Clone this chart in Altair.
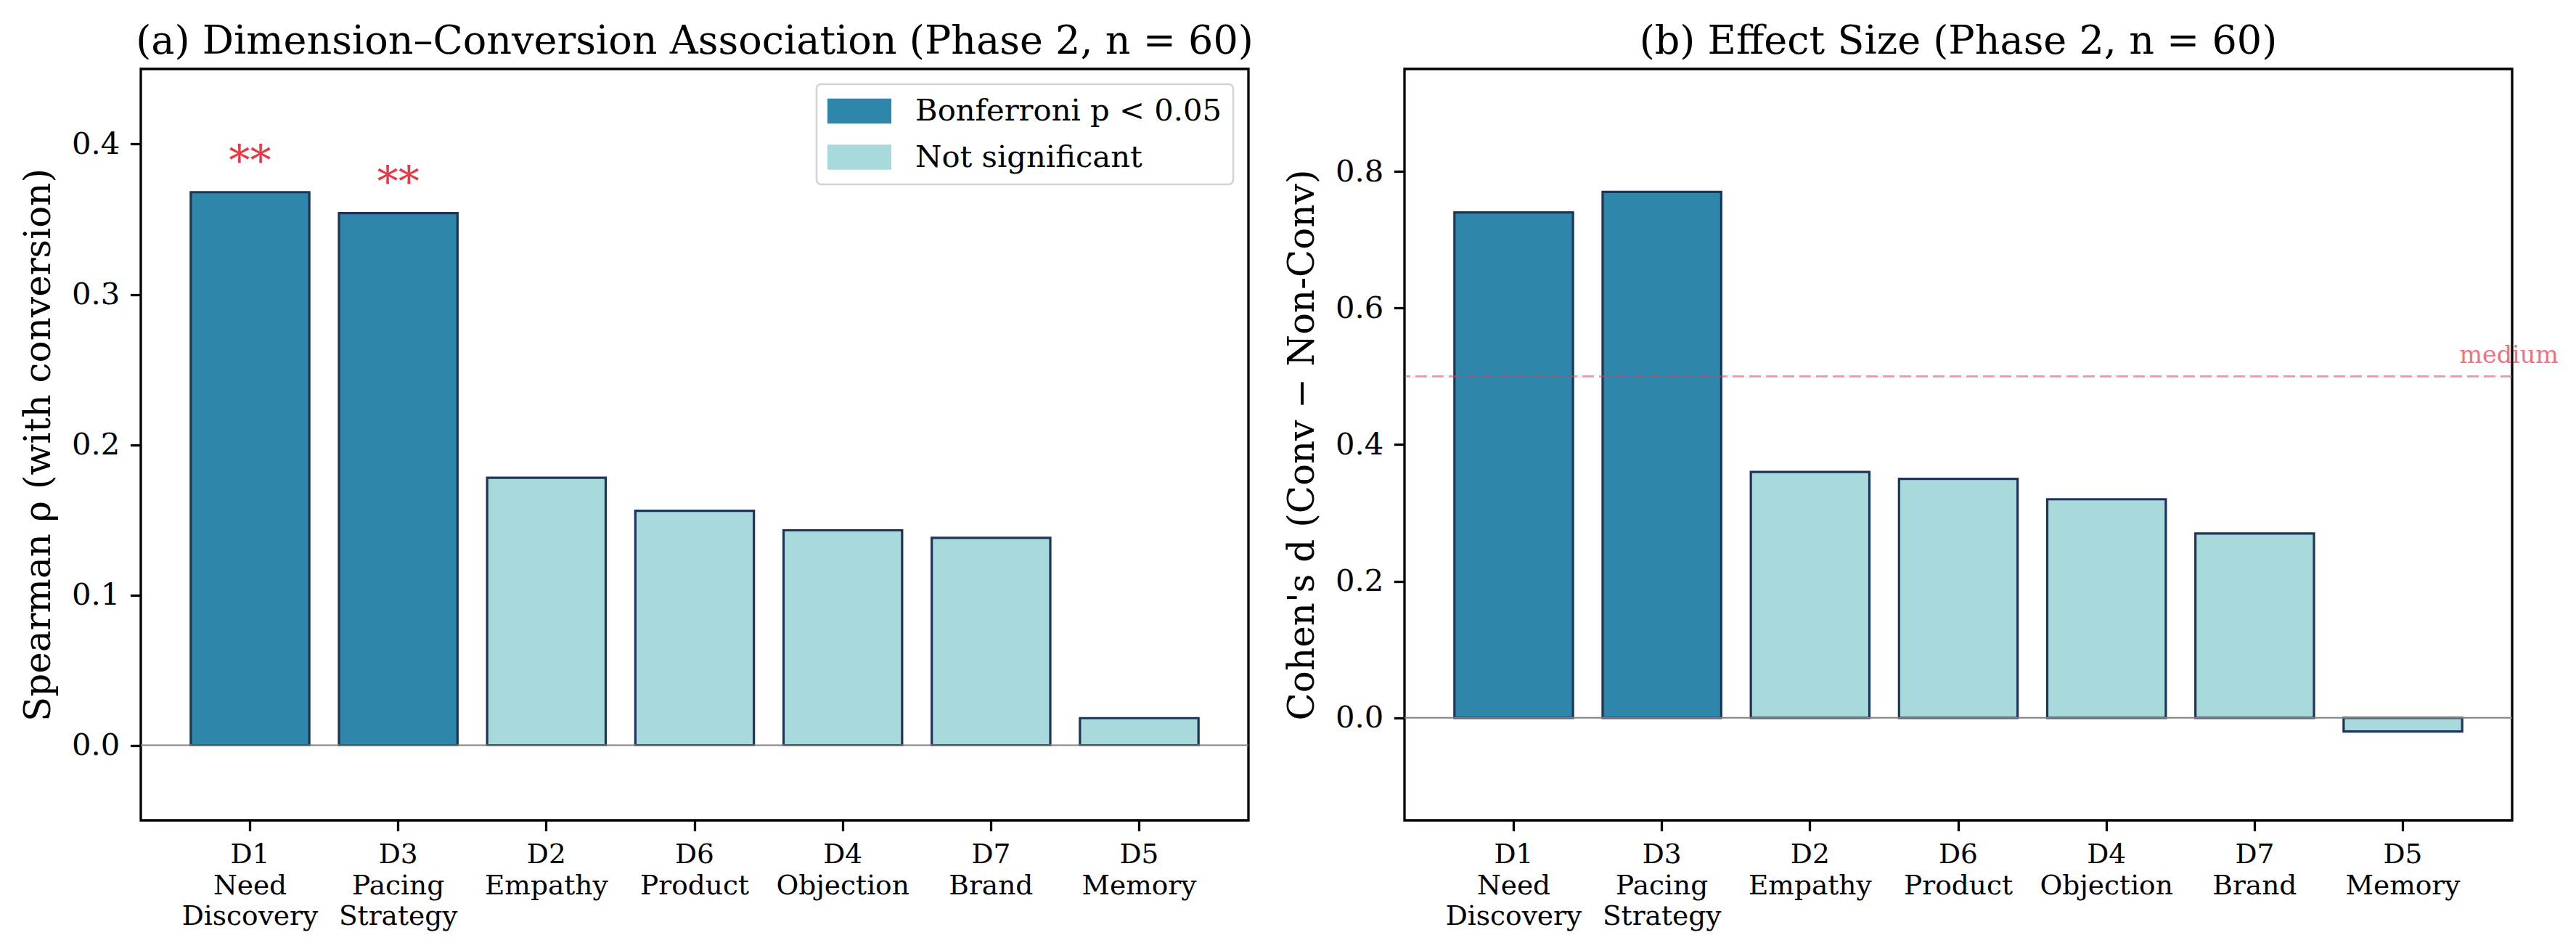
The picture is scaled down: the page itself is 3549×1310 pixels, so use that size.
import altair as alt
import pandas as pd

# ---- data ----
dims = ["D1", "D3", "D2", "D6", "D4", "D7", "D5"]
names = ["Need|Discovery", "Pacing|Strategy", "Empathy", "Product", "Objection", "Brand", "Memory"]
rho = [0.368, 0.354, 0.178, 0.156, 0.143, 0.138, 0.018]
cohen_d = [0.74, 0.77, 0.36, 0.35, 0.32, 0.27, -0.02]
significant = [True, True, False, False, False, False, False]
stars = ["**", "**", "", "", "", "", ""]
medium_d = 0.5
rho_ticks = [0.0, 0.1, 0.2, 0.3, 0.4]
d_ticks = [0.0, 0.2, 0.4, 0.6, 0.8]

SIG = "Bonferroni p < 0.05"
NS = "Not significant"
FONT = "DejaVu Serif"
DARK = "#2e86ab"
LIGHT = "#a8dadc"
EDGE = "#1d3557"
RED = "#e63946"

cats = [f"{d}|{n}" for d, n in zip(dims, names)]
df = pd.DataFrame({
    "cat": cats,
    "rho": rho,
    "d": cohen_d,
    "group": [SIG if s else NS for s in significant],
    "star": stars,
})
zero_df = pd.DataFrame({"z": [0.0]})
med_df = pd.DataFrame({"m": [medium_d]})
med_lab = pd.DataFrame({"cat": [cats[-1]], "y": [medium_d + 0.02], "t": ["medium"]})

W, H = 1526, 1035
TICK = 14.6
LW = 3.3


def xenc():
    return alt.X(
        "cat:N", sort=cats,
        scale=alt.Scale(paddingInner=0.2, paddingOuter=0.337),
        axis=alt.Axis(title=None, labelExpr="split(datum.label, '|')", labelAngle=0,
                      labelFontSize=37.5, labelLineHeight=42.5, labelPadding=14,
                      labelBaseline="top", labelLimit=0,
                      tickSize=TICK, tickWidth=LW, tickColor="black", domain=False),
    )


def yaxis(title, values):
    return alt.Axis(title=title, values=values, format=".1f", tickSize=TICK, tickWidth=LW,
                    tickColor="black", labelPadding=14.6, labelFontSize=41.7,
                    titleFontSize=50, titlePadding=20, domain=False, grid=False)


color_scale = alt.Scale(domain=[SIG, NS], range=[DARK, LIGHT])


def title(text):
    return alt.TitleParams(text, font=FONT, fontSize=54, fontWeight="normal",
                           anchor="middle", offset=10, color="black")


# ---- panel (a) ----
ya = alt.Y("rho:Q", scale=alt.Scale(domain=[-0.05, 0.45], nice=False, zero=False),
           axis=yaxis("Spearman ρ (with conversion)", rho_ticks))
bars_a = alt.Chart(df).mark_bar(stroke=EDGE, strokeWidth=3.2).encode(
    x=xenc(), y=ya, y2=alt.datum(0),
    color=alt.Color("group:N", scale=color_scale, legend=alt.Legend(
        title=None, orient="top-right", offset=21, labelFontSize=41.7, labelFont=FONT,
        labelLimit=0, symbolType="M-2,-0.78H2V0.78H-2Z", symbolSize=1936,
        symbolOffset=22, symbolStrokeWidth=0, symbolOpacity=1,
        strokeColor="#d3d3d3", fillColor="white", padding=15,
        cornerRadius=6, rowPadding=19.5, labelOffset=55)),
)
zero_a = alt.Chart(zero_df).mark_rule(color="#808080", strokeWidth=2).encode(y="z:Q")
star_a = alt.Chart(df).mark_text(color=RED, fontSize=58.3, baseline="alphabetic", dy=-24,
                                 font=FONT).encode(x=alt.X("cat:N", sort=cats), y="rho:Q",
                                                   text="star:N")
left = alt.layer(bars_a, zero_a, star_a).properties(
    width=W, height=H,
    title=title("(a) Dimension–Conversion Association (Phase 2, n = 60)"),
)

# ---- panel (b) ----
yb = alt.Y("d:Q", scale=alt.Scale(domain=[-0.15, 0.95], nice=False, zero=False),
           axis=yaxis("Cohen's d (Conv − Non-Conv)", d_ticks))
bars_b = alt.Chart(df).mark_bar(stroke=EDGE, strokeWidth=3.2).encode(
    x=xenc(), y=yb, y2=alt.datum(0),
    color=alt.Color("group:N", scale=color_scale, legend=None),
)
zero_b = alt.Chart(zero_df).mark_rule(color="#808080", strokeWidth=2).encode(y="z:Q")
med_b = alt.Chart(med_df).mark_rule(color=RED, opacity=0.5, strokeWidth=3,
                                    strokeDash=[16, 7]).encode(y="m:Q")
medtxt_b = alt.Chart(med_lab).mark_text(color=RED, opacity=0.7, fontSize=33.3, align="left",
                                        baseline="alphabetic", dx=78, font=FONT).encode(
    x=alt.X("cat:N", sort=cats), y="y:Q", text="t:N")
right = alt.layer(bars_b, zero_b, med_b, medtxt_b).properties(
    width=W, height=H,
    title=title("(b) Effect Size (Phase 2, n = 60)"),
)

chart = alt.hconcat(left, right, spacing=38).resolve_scale(
    x="independent", y="independent", color="independent"
).properties(
    padding={"left": 18, "top": 21, "right": 10, "bottom": 5}
).configure_view(stroke="black", strokeWidth=LW).configure_axis(
    labelFont=FONT, titleFont=FONT, labelColor="black", titleColor="black",
    titleFontWeight="normal", grid=False
).configure_legend(strokeWidth=2.5).configure_text(font=FONT)

chart.save("out.html", embed_options={"renderer": "svg", "actions": False})
